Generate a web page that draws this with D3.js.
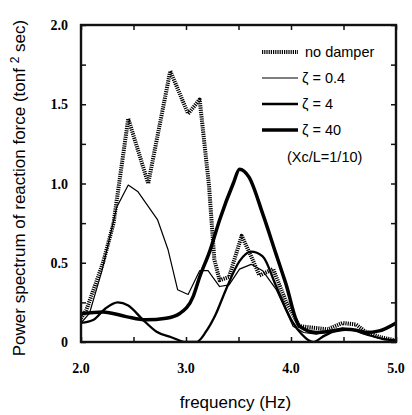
<!DOCTYPE html>
<html>
<head>
<meta charset="utf-8">
<script src="https://cdn.jsdelivr.net/npm/d3@7"></script>
<style>
  body { margin: 0; background: #fff; }
  svg { display: block; }
</style>
</head>
<body>
<svg id="chart" width="412" height="415"></svg>
<script>
// values (frequency Hz, power spectrum)
var noDamperF = [2.0, 2.05, 2.21, 2.31, 2.45, 2.64, 2.85, 3.02, 3.13, 3.22, 3.27, 3.32, 3.41, 3.53, 3.62, 3.70, 3.83, 3.95, 4.08, 4.21, 4.35, 4.49, 4.62, 4.71, 4.85, 5.0];
var noDamperP = [0.15, 0.20, 0.50, 0.75, 1.41, 1.00, 1.71, 1.44, 1.53, 0.98, 0.52, 0.39, 0.41, 0.67, 0.54, 0.42, 0.46, 0.26, 0.10, 0.09, 0.08, 0.12, 0.11, 0.065, 0.03, 0.01];

var z04F = [2.0, 2.08, 2.2, 2.34, 2.45, 2.54, 2.73, 2.83, 2.92, 3.02, 3.13, 3.21, 3.32, 3.41, 3.51, 3.62, 3.73, 3.86, 4.02, 4.12, 4.24, 4.35, 4.49, 4.65, 4.8, 4.97, 5.0];
var z04P = [0.12, 0.18, 0.45, 0.85, 0.99, 0.95, 0.77, 0.58, 0.33, 0.30, 0.45, 0.45, 0.35, 0.36, 0.46, 0.49, 0.45, 0.33, 0.10, 0.06, 0.05, 0.07, 0.09, 0.065, 0.03, 0.01, 0.01];

var z4F = [2.0, 2.12, 2.23, 2.35, 2.45, 2.59, 2.72, 2.86, 3.0, 3.1, 3.19, 3.28, 3.38, 3.51, 3.62, 3.73, 3.86, 4.02, 4.1, 4.21, 4.32, 4.45, 4.55, 4.71, 4.87, 5.0];
var z4P = [0.12, 0.14, 0.21, 0.25, 0.23, 0.14, 0.065, 0.03, 0.0, 0.0, 0.065, 0.17, 0.33, 0.51, 0.57, 0.54, 0.35, 0.12, 0.05, 0.0, 0.04, 0.075, 0.08, 0.05, 0.02, 0.01];

var z40F = [2.0, 2.21, 2.43, 2.62, 2.81, 2.94, 3.07, 3.13, 3.23, 3.32, 3.45, 3.51, 3.6, 3.73, 3.86, 3.95, 4.08, 4.24, 4.4, 4.52, 4.62, 4.71, 4.84, 5.0];
var z40P = [0.18, 0.19, 0.16, 0.14, 0.15, 0.18, 0.29, 0.41, 0.58, 0.77, 1.0, 1.09, 1.04, 0.81, 0.55, 0.37, 0.10, 0.06, 0.07, 0.08, 0.075, 0.06, 0.07, 0.12];

var legendLabels = ['no damper', 'ζ = 0.4', 'ζ = 4', 'ζ = 40'];
var xTicks = [2.0, 3.0, 4.0, 5.0];
var yTicks = [0, 0.5, 1.0, 1.5, 2.0];

var margin = {left: 81, right: 16, top: 25, bottom: 73};
var width = 412 - margin.left - margin.right;
var height = 415 - margin.top - margin.bottom;

var svg = d3.select('#chart');
var g = svg.append('g').attr('transform', 'translate(' + margin.left + ',' + margin.top + ')');

var x = d3.scaleLinear().domain([2, 5]).range([0, width]);
var y = d3.scaleLinear().domain([0, 2]).range([height, 0]);

function zip(f, p){
    return f.map(function(d, i){ return {f: d, p: p[i]}; });
}

var series = [
    {data: zip(noDamperF, noDamperP), w: 4, dash: '1.2,1', curve: d3.curveLinear},
    {data: zip(z04F, z04P), w: 1.2, dash: null, curve: d3.curveLinear},
    {data: zip(z4F, z4P), w: 2.3, dash: null, curve: d3.curveMonotoneX},
    {data: zip(z40F, z40P), w: 3.5, dash: null, curve: d3.curveMonotoneX}
];

g.append('clipPath').attr('id', 'clip')
    .append('rect').attr('width', width).attr('height', height);

var lines = g.append('g').attr('clip-path', 'url(#clip)');
series.forEach(function(s){
    var line = d3.line()
        .x(function(d){ return x(d.f); })
        .y(function(d){ return y(d.p); })
        .curve(s.curve);
    lines.append('path')
        .datum(s.data)
        .attr('d', line)
        .attr('fill', 'none')
        .attr('stroke', '#000')
        .attr('stroke-width', s.w)
        .attr('stroke-dasharray', s.dash)
        .attr('stroke-linejoin', 'round');
});

// inward ticks on all four sides
var minorY = d3.range(0, 2.01, 0.25);
var minorX = d3.range(2, 5.01, 0.5);
g.append('g').call(d3.axisLeft(y).tickValues(minorY).tickSize(-5).tickFormat(''));
g.append('g').attr('transform', 'translate(' + width + ',0)')
    .call(d3.axisRight(y).tickValues(minorY).tickSize(-5).tickFormat(''));
g.append('g').attr('transform', 'translate(0,' + height + ')')
    .call(d3.axisBottom(x).tickValues(minorX).tickSize(-5).tickFormat(''));
g.append('g').call(d3.axisTop(x).tickValues(minorX).tickSize(-5).tickFormat(''));
g.selectAll('.domain').remove();
g.selectAll('.tick line').attr('stroke', '#111').attr('stroke-width', 1.5);

// frame
g.append('rect')
    .attr('width', width).attr('height', height)
    .attr('fill', 'none').attr('stroke', '#111').attr('stroke-width', 2.4);

// tick labels
g.selectAll('.xlab').data(xTicks).enter().append('text')
    .attr('x', function(d){ return x(d); })
    .attr('y', height + 31)
    .attr('text-anchor', 'middle')
    .style('font', 'bold 14px "Liberation Serif"')
    .text(function(d){ return d3.format('.1f')(d); });

g.selectAll('.ylab').data(yTicks).enter().append('text')
    .attr('x', -13)
    .attr('y', function(d){ return y(d) + 5; })
    .attr('text-anchor', 'end')
    .style('font', 'bold 14px "Liberation Serif"')
    .text(function(d){ return d === 0 ? '0' : d3.format('.1f')(d); });

// axis titles
svg.append('text')
    .attr('x', margin.left + width / 2 - 3)
    .attr('y', 408)
    .attr('text-anchor', 'middle')
    .style('font', '17px "Liberation Sans"')
    .text('frequency (Hz)');

var yt = svg.append('text')
    .attr('transform', 'translate(25,' + 188 + ') rotate(-90)')
    .attr('text-anchor', 'middle')
    .style('font', '17px "Liberation Sans"');
yt.append('tspan').text('Power spectrum of reaction force (tonf ');
yt.append('tspan').attr('dy', -6).style('font-size', '12px').text('2');
yt.append('tspan').attr('dy', 6).text(' sec)');

// legend
var legend = g.append('g').attr('transform', 'translate(' + (262 - margin.left) + ',' + (52 - margin.top) + ')');
series.forEach(function(s, i){
    var row = legend.append('g').attr('transform', 'translate(0,' + (i * 26) + ')');
    row.append('line')
        .attr('x1', 0).attr('x2', 36)
        .attr('stroke', '#000')
        .attr('stroke-width', s.w)
        .attr('stroke-dasharray', s.dash);
    row.append('text')
        .attr('x', i === 0 ? 43 : 40)
        .attr('y', 5)
        .style('font', '14.5px "Liberation Sans"')
        .text(legendLabels[i]);
});
legend.append('text')
    .attr('x', 25).attr('y', 110)
    .style('font', '14.5px "Liberation Sans"')
    .text('(Xc/L=1/10)');
</script>
</body>
</html>
